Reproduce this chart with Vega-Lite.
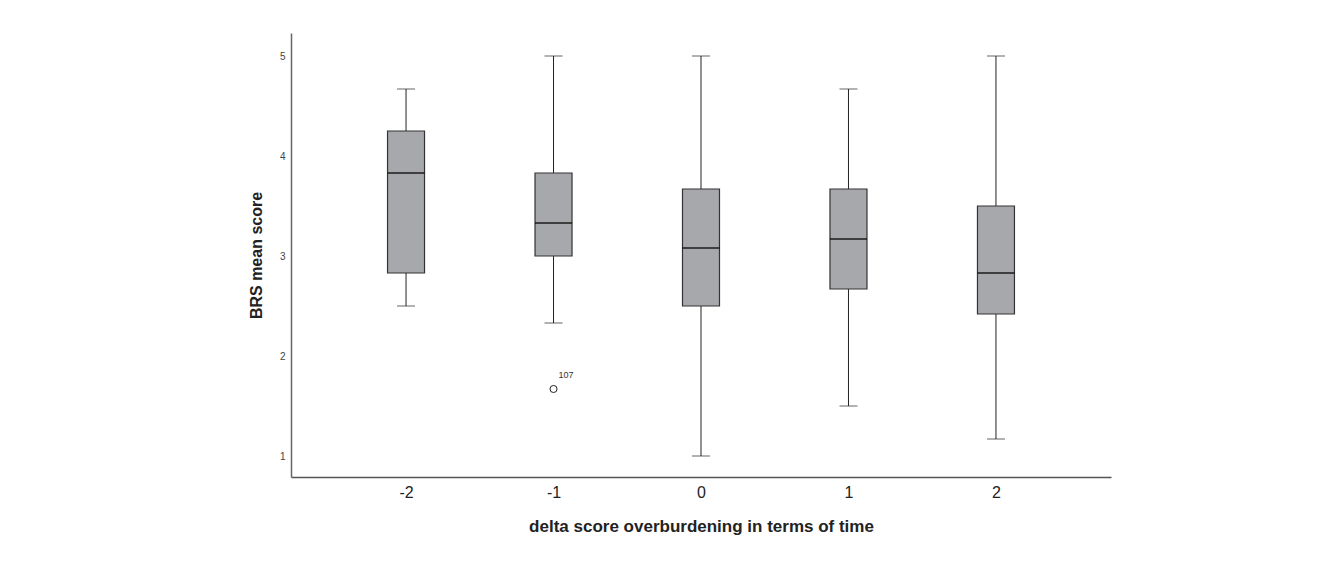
{
  "$schema": "https://vega.github.io/schema/vega-lite/v6.json",
  "autosize": "none",
  "width": 820,
  "height": 444,
  "padding": {"left": 291, "top": 33, "right": 230, "bottom": 89},
  "background": "white",
  "config": {
    "view": {"stroke": null},
    "font": "Liberation Sans"
  },
  "datasets": {
    "boxes": [
      {"delta": "-2", "lower": 2.5, "q1": 2.83, "median": 3.83, "q3": 4.25, "upper": 4.67},
      {"delta": "-1", "lower": 2.33, "q1": 3.0, "median": 3.33, "q3": 3.83, "upper": 5.0},
      {"delta": "0", "lower": 1.0, "q1": 2.5, "median": 3.08, "q3": 3.67, "upper": 5.0},
      {"delta": "1", "lower": 1.5, "q1": 2.67, "median": 3.17, "q3": 3.67, "upper": 4.67},
      {"delta": "2", "lower": 1.17, "q1": 2.42, "median": 2.83, "q3": 3.5, "upper": 5.0}
    ],
    "outliers": [
      {"delta": "-1", "value": 1.67, "case": "107"}
    ]
  },
  "encoding": {
    "x": {
      "field": "delta",
      "type": "ordinal",
      "sort": ["-2", "-1", "0", "1", "2"],
      "scale": {"type": "point", "domain": ["-2", "-1", "0", "1", "2"], "padding": 0.78},
      "axis": {
        "title": "delta score overburdening in terms of time",
        "titleFont": "Liberation Sans",
        "titleFontSize": 17,
        "titleFontWeight": "bold",
        "titleColor": "#222",
        "titlePadding": 18,
        "labelFont": "Liberation Sans",
        "labelFontSize": 16,
        "labelColor": "#222",
        "labelAngle": 0,
        "labelPadding": 7,
        "ticks": false,
        "domainColor": "#555",
        "domainWidth": 1.5,
        "grid": false
      }
    }
  },
  "layer": [
    {
      "data": {"name": "boxes"},
      "mark": {"type": "rule", "color": "#222", "strokeWidth": 1},
      "encoding": {
        "y": {
          "field": "lower",
          "type": "quantitative",
          "scale": {"domain": [0.79, 5.23], "nice": false, "zero": false},
          "axis": {
            "title": "BRS mean score",
            "titleFont": "Liberation Sans",
            "titleFontSize": 16,
            "titleFontWeight": "bold",
            "titleColor": "#222",
            "titlePadding": 15,
            "values": [1, 2, 3, 4, 5],
            "format": "d",
            "labelFont": "Liberation Sans",
            "labelFontSize": 10,
            "labelColor": "#444",
            "labelPadding": 6,
            "ticks": false,
            "grid": false,
            "domainColor": "#666",
            "domainWidth": 1.5
          }
        },
        "y2": {"field": "upper"}
      }
    },
    {
      "data": {"name": "boxes"},
      "mark": {"type": "tick", "color": "#222", "size": 18, "thickness": 1, "orient": "horizontal"},
      "encoding": {"y": {"field": "upper", "type": "quantitative"}}
    },
    {
      "data": {"name": "boxes"},
      "mark": {"type": "tick", "color": "#222", "size": 18, "thickness": 1, "orient": "horizontal"},
      "encoding": {"y": {"field": "lower", "type": "quantitative"}}
    },
    {
      "data": {"name": "boxes"},
      "mark": {"type": "bar", "size": 37, "fill": "#a7a8ab", "stroke": "#333", "strokeWidth": 1.2},
      "encoding": {
        "y": {"field": "q1", "type": "quantitative"},
        "y2": {"field": "q3"}
      }
    },
    {
      "data": {"name": "boxes"},
      "mark": {"type": "tick", "color": "#111", "size": 37, "thickness": 2.2, "orient": "horizontal"},
      "encoding": {"y": {"field": "median", "type": "quantitative"}}
    },
    {
      "data": {"name": "outliers"},
      "mark": {"type": "point", "shape": "circle", "filled": false, "stroke": "#222", "strokeWidth": 1, "size": 50, "opacity": 1},
      "encoding": {"y": {"field": "value", "type": "quantitative"}}
    },
    {
      "data": {"name": "outliers"},
      "mark": {"type": "text", "fontSize": 9, "color": "#333", "dx": 5, "dy": -14, "align": "left", "font": "Liberation Sans"},
      "encoding": {
        "y": {"field": "value", "type": "quantitative"},
        "text": {"field": "case"}
      }
    }
  ]
}
